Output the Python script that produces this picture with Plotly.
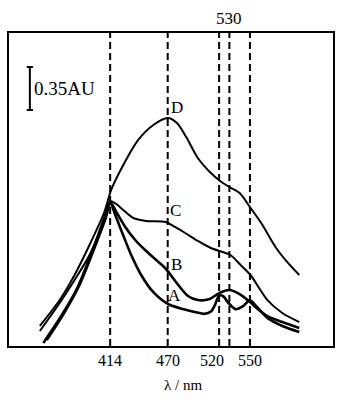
import plotly.graph_objects as go

# Wavelength (nm) and absorbance (AU)
d_x = [345.6, 364.9, 379.4, 393.9, 408.4, 415, 426.8, 441.3, 456, 470, 479, 488, 499.3, 511, 521, 530, 540, 550, 561, 575.5, 587, 598]
d_y = [0.163, 0.374, 0.578, 0.822, 1.091, 1.270, 1.473, 1.677, 1.799, 1.856, 1.815, 1.701, 1.530, 1.416, 1.343, 1.294, 1.245, 1.131, 1.001, 0.798, 0.676, 0.578]

c_x = [345.6, 364.9, 379.4, 393.9, 407.4, 414, 420, 426.8, 436.5, 449, 468, 477, 487, 499.3, 512, 523.5, 531, 541, 550.5, 567, 581.5, 598]
c_y = [0.122, 0.350, 0.537, 0.741, 1.009, 1.180, 1.156, 1.107, 1.042, 1.018, 1.009, 0.969, 0.920, 0.855, 0.798, 0.765, 0.741, 0.659, 0.578, 0.374, 0.269, 0.195]

b_x = [352.3, 369.8, 384.2, 398.7, 410.3, 414, 420, 428.7, 438.4, 448, 457.7, 467.5, 478, 489.7, 499.3, 510.9, 520, 530, 540, 549, 555.4, 567, 581.5, 598]
b_y = [0.049, 0.277, 0.497, 0.798, 1.058, 1.172, 1.091, 0.969, 0.863, 0.781, 0.708, 0.635, 0.521, 0.407, 0.374, 0.383, 0.431, 0.456, 0.423, 0.366, 0.317, 0.244, 0.195, 0.147]

a_x = [349, 367, 382, 397, 409, 414, 419, 425.8, 434.5, 444.2, 455.8, 470.3, 484.8, 496.4, 506, 512, 516, 520, 524, 529, 536, 543, 550, 556, 567, 581.5, 598]
a_y = [0.024, 0.252, 0.472, 0.781, 1.058, 1.164, 1.066, 0.920, 0.741, 0.578, 0.440, 0.342, 0.301, 0.277, 0.262, 0.280, 0.335, 0.410, 0.405, 0.352, 0.300, 0.322, 0.372, 0.326, 0.228, 0.163, 0.114]

marker_nm = [414, 470, 520, 530, 550]
bottom_ticks = ["414", "470", "520", "550"]
top_ticks = ["530"]

curve_labels = ["D", "C", "B", "A"]
label_x = [479, 478, 479, 477]
label_y = [1.945, 1.107, 0.667, 0.415]

scale_value = 0.35
scale_x = 335.9
scale_base = 1.921

x_range = [315.6, 630.8]
y_range = [0, 2.548]

FONT = "Liberation Serif"

fig = go.Figure()
for xs, ys, w in [(d_x, d_y, 2), (c_x, c_y, 2), (b_x, b_y, 2.6), (a_x, a_y, 2.6)]:
    fig.add_trace(go.Scatter(x=xs, y=ys, mode="lines",
                             line=dict(color="black", width=w, shape="spline", smoothing=0.8),
                             showlegend=False, hoverinfo="skip"))

shapes = []
for nm in marker_nm:
    shapes.append(dict(type="line", xref="x", yref="paper", x0=nm, x1=nm, y0=0, y1=1,
                       line=dict(color="black", width=2, dash="7px,4px")))
# scale bar
shapes.append(dict(type="line", xref="x", yref="y", x0=scale_x, x1=scale_x,
                   y0=scale_base, y1=scale_base + scale_value, line=dict(color="black", width=2)))
for yy in [scale_base, scale_base + scale_value]:
    shapes.append(dict(type="line", xref="x", yref="y", x0=scale_x - 3, x1=scale_x + 3,
                       y0=yy, y1=yy, line=dict(color="black", width=2)))

annotations = []
for t, x, y in zip(curve_labels, label_x, label_y):
    annotations.append(dict(x=x, y=y, xref="x", yref="y", text=t, showarrow=False,
                            font=dict(family=FONT, size=17, color="black")))
for t in bottom_ticks:
    nm = float(t)
    annotations.append(dict(x=nm, y=0, xref="x", yref="paper", text=t, showarrow=False,
                            yanchor="middle", yshift=-14, xshift=(-7 if t == "520" else 0),
                            font=dict(family=FONT, size=16, color="black")))
for t in top_ticks:
    annotations.append(dict(x=float(t), y=1, xref="x", yref="paper", text=t, showarrow=False,
                            yanchor="middle", yshift=15,
                            font=dict(family=FONT, size=17, color="black")))
annotations.append(dict(x=scale_x + 2, y=scale_base + scale_value / 2, xref="x", yref="y",
                        text="0.35AU", showarrow=False, xanchor="left",
                        font=dict(family=FONT, size=19, color="black")))
annotations.append(dict(x=485, y=0, xref="x", yref="paper", text="λ / nm", showarrow=False,
                        yanchor="middle", yshift=-39,
                        font=dict(family=FONT, size=15, color="black")))

fig.update_layout(
    width=339, height=401,
    margin=dict(l=9, r=4, t=33, b=55),
    paper_bgcolor="white", plot_bgcolor="white",
    shapes=shapes, annotations=annotations,
    xaxis=dict(range=x_range, showgrid=False, zeroline=False, showticklabels=False,
               ticks="", showline=True, mirror=True, linecolor="black", linewidth=2),
    yaxis=dict(range=y_range, showgrid=False, zeroline=False, showticklabels=False,
               ticks="", showline=True, mirror=True, linecolor="black", linewidth=2),
)

fig.write_html("out.html")
